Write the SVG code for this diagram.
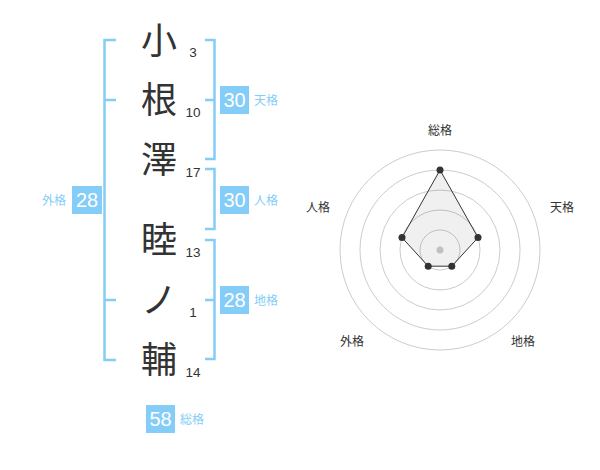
<svg xmlns="http://www.w3.org/2000/svg" width="600" height="470" viewBox="0 0 600 470">
<style>
.k{font-family:"Noto Sans CJK JP","Noto Sans CJK SC",sans-serif;font-size:36px;fill:#333;text-anchor:middle}
.n{font-family:"Liberation Sans",Arial,sans-serif;font-size:13.5px;fill:#333;text-anchor:middle}
.br{fill:none;stroke:#84cdf8;stroke-width:2.5}
.box{fill:#84cdf8}
.bt{font-family:"Liberation Sans",Arial,sans-serif;font-size:20px;fill:#fff;text-anchor:middle}
.lb{font-family:"Noto Sans CJK JP",sans-serif;font-size:12px;fill:#84cdf8}
.ring{fill:none;stroke:#ccc;stroke-width:1}
.rl{font-family:"Noto Sans CJK JP",sans-serif;font-size:12px;fill:#333;text-anchor:middle}
.dot{fill:#333}
</style>
<rect width="600" height="470" fill="#fff"/>
<g id="chars">
<g id="c1"><text class="k" x="159" y="54">小</text><text class="n" x="193" y="57">3</text></g>
<g id="c2"><text class="k" x="159" y="113">根</text><text class="n" x="193" y="117">10</text></g>
<g id="c3"><text class="k" x="159" y="173">澤</text><text class="n" x="193" y="177">17</text></g>
<g id="c4"><text class="k" x="159" y="253">睦</text><text class="n" x="193" y="257">13</text></g>
<g id="c5"><text class="k" x="159" y="313">ノ</text><text class="n" x="193" y="317">1</text></g>
<g id="c6"><text class="k" x="159" y="373">輔</text><text class="n" x="193" y="377">14</text></g>
</g>
<g id="connectors">
<path class="br" d="M116,40H104.5V360H116M104.5,100H116M104.5,300H116"/>
<path class="br" d="M205,40H214.5V159H205M205,100H214.5"/>
<path class="br" d="M205,169H214.5V229H205"/>
<path class="br" d="M205,240H214.5V359H205M205,300H214.5"/>
</g>
<g id="gaikaku"><rect class="box" x="72" y="186" width="30" height="28"/><text class="bt" x="87" y="207">28</text><text class="lb" x="66" y="205" text-anchor="end">外格</text></g>
<g id="tenkaku"><rect class="box" x="220" y="86" width="29" height="28"/><text class="bt" x="234.5" y="107">30</text><text class="lb" x="254" y="105">天格</text></g>
<g id="jinkaku"><rect class="box" x="220" y="186" width="29" height="28"/><text class="bt" x="234.5" y="207">30</text><text class="lb" x="254" y="205">人格</text></g>
<g id="chikaku"><rect class="box" x="220" y="286" width="29" height="28"/><text class="bt" x="234.5" y="307">28</text><text class="lb" x="254" y="305">地格</text></g>
<g id="soukaku"><rect class="box" x="146" y="405" width="29" height="28"/><text class="bt" x="160.5" y="426">58</text><text class="lb" x="180" y="424">総格</text></g>
<g id="radar">
<circle class="ring" cx="440" cy="250" r="20"/>
<circle class="ring" cx="440" cy="250" r="40"/>
<circle class="ring" cx="440" cy="250" r="60"/>
<circle class="ring" cx="440" cy="250" r="80"/>
<circle class="ring" cx="440" cy="250" r="100"/>
<circle cx="440" cy="250" r="3.5" fill="#ccc"/>
<polygon points="440,170 478,237.6 451.8,266.2 428.2,266.2 402,237.6" fill="#000" fill-opacity="0.06" stroke="#333" stroke-width="1"/>
<circle class="dot" cx="440" cy="170" r="3.5"/>
<circle class="dot" cx="478" cy="237.6" r="3.5"/>
<circle class="dot" cx="451.8" cy="266.2" r="3.5"/>
<circle class="dot" cx="428.2" cy="266.2" r="3.5"/>
<circle class="dot" cx="402" cy="237.6" r="3.5"/>
<text class="rl" x="440" y="135">総格</text>
<text class="rl" x="562" y="212">天格</text>
<text class="rl" x="523" y="346">地格</text>
<text class="rl" x="352" y="346">外格</text>
<text class="rl" x="318" y="212">人格</text>
</g>
</svg>
